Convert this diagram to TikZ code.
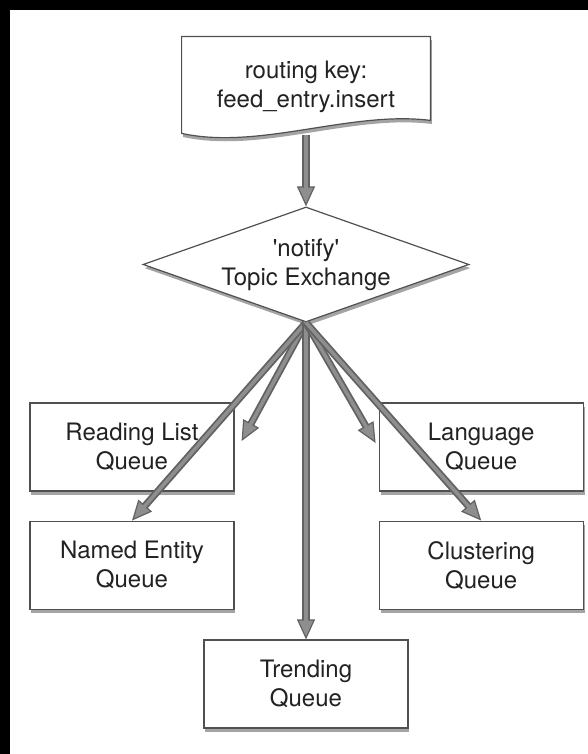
\documentclass[tikz,border=0pt]{standalone}
\usepackage{fontspec}
\setmainfont{TeX Gyre Heros}
\usetikzlibrary{positioning,shapes.geometric,arrows.meta,shadows,calc,backgrounds}
\def\dx{72pt}
\def\dy{14.5pt}
\definecolor{ink}{HTML}{222222}
\definecolor{boxline}{HTML}{505050}
\definecolor{pipeedge}{HTML}{626262}
\definecolor{pipefill}{HTML}{8E8E8E}
\tikzstyle{boxshadow}=[drop shadow={shadow xshift=0.7pt,shadow yshift=-1.8pt,opacity=0.55,fill=black!65}]
\tikzstyle{label}=[align=center,text=ink,font=\fontsize{12}{14.5}\selectfont]
\tikzstyle{queue}=[label,rectangle,draw=boxline,line width=0.6pt,fill=white,boxshadow,minimum width=102pt,minimum height=44pt]
\tikzstyle{exchange}=[label,diamond,draw=boxline,line width=0.6pt,fill=white,boxshadow,aspect=2.83,inner sep=0pt,minimum width=163pt,minimum height=57.5pt]
\tikzstyle{feed}=[draw=pipeedge,line width=3.6pt,
    -{Triangle[length=10pt,width=9pt,line width=0.6pt,fill=pipefill]},
    postaction={draw=pipefill,line width=1.8pt,-,shorten >=9pt}]
\newcommand{\newQueue}[3]{\node[queue,#3](#1){#2};}
\newcommand{\newFeed}[2]{\draw[feed] (#1) -- (#2);}

\begin{document}
\begin{tikzpicture}[x=0.5pt,y=0.5pt,node distance=\dy and \dx]
    \useasboundingbox (0,0) rectangle (588,754);
    \fill[black] (0,744) rectangle (588,754);
    \fill[black] (0,0) rectangle (10,754);

    % routing key document
    \node[label,minimum width=124pt,minimum height=48pt](key) at (306,667)
        {routing key:\\feed\_entry.insert};
    \begin{scope}[on background layer]
      \draw[boxline,line width=0.6pt,fill=white,boxshadow]
        ([yshift=1pt]key.north west) -- ([yshift=1pt]key.north east) -- ([yshift=7.5pt]key.south east)
        .. controls +(-40pt,5pt) and +(39pt,-8.5pt) .. ([yshift=1pt]key.south west) -- cycle;
    \end{scope}

    \node[exchange](ex) at (306,489.5) {\textquotesingle notify\textquotesingle\\Topic Exchange};

    \newQueue{rl}{Reading List\\Queue}{at={(132,307)}}
    \newQueue{lang}{Language\\Queue}{right=of rl}
    \newQueue{ne}{Named Entity\\Queue}{below=of rl}
    \newQueue{clus}{Clustering\\Queue}{below=of lang}
    \newQueue{trend}{Trending\\Queue}{at={(306,70)}}

    \newFeed{key.south}{ex.north}
    \newFeed{ex.south}{$(rl.east)+(3.5pt,3pt)$}
    \newFeed{ex.south}{ne.north}
    \newFeed{ex.south}{trend.north}
    \newFeed{ex.south}{$(lang.west)+(-1.5pt,2pt)$}
    \newFeed{ex.south}{clus.north}
\end{tikzpicture}
\end{document}
